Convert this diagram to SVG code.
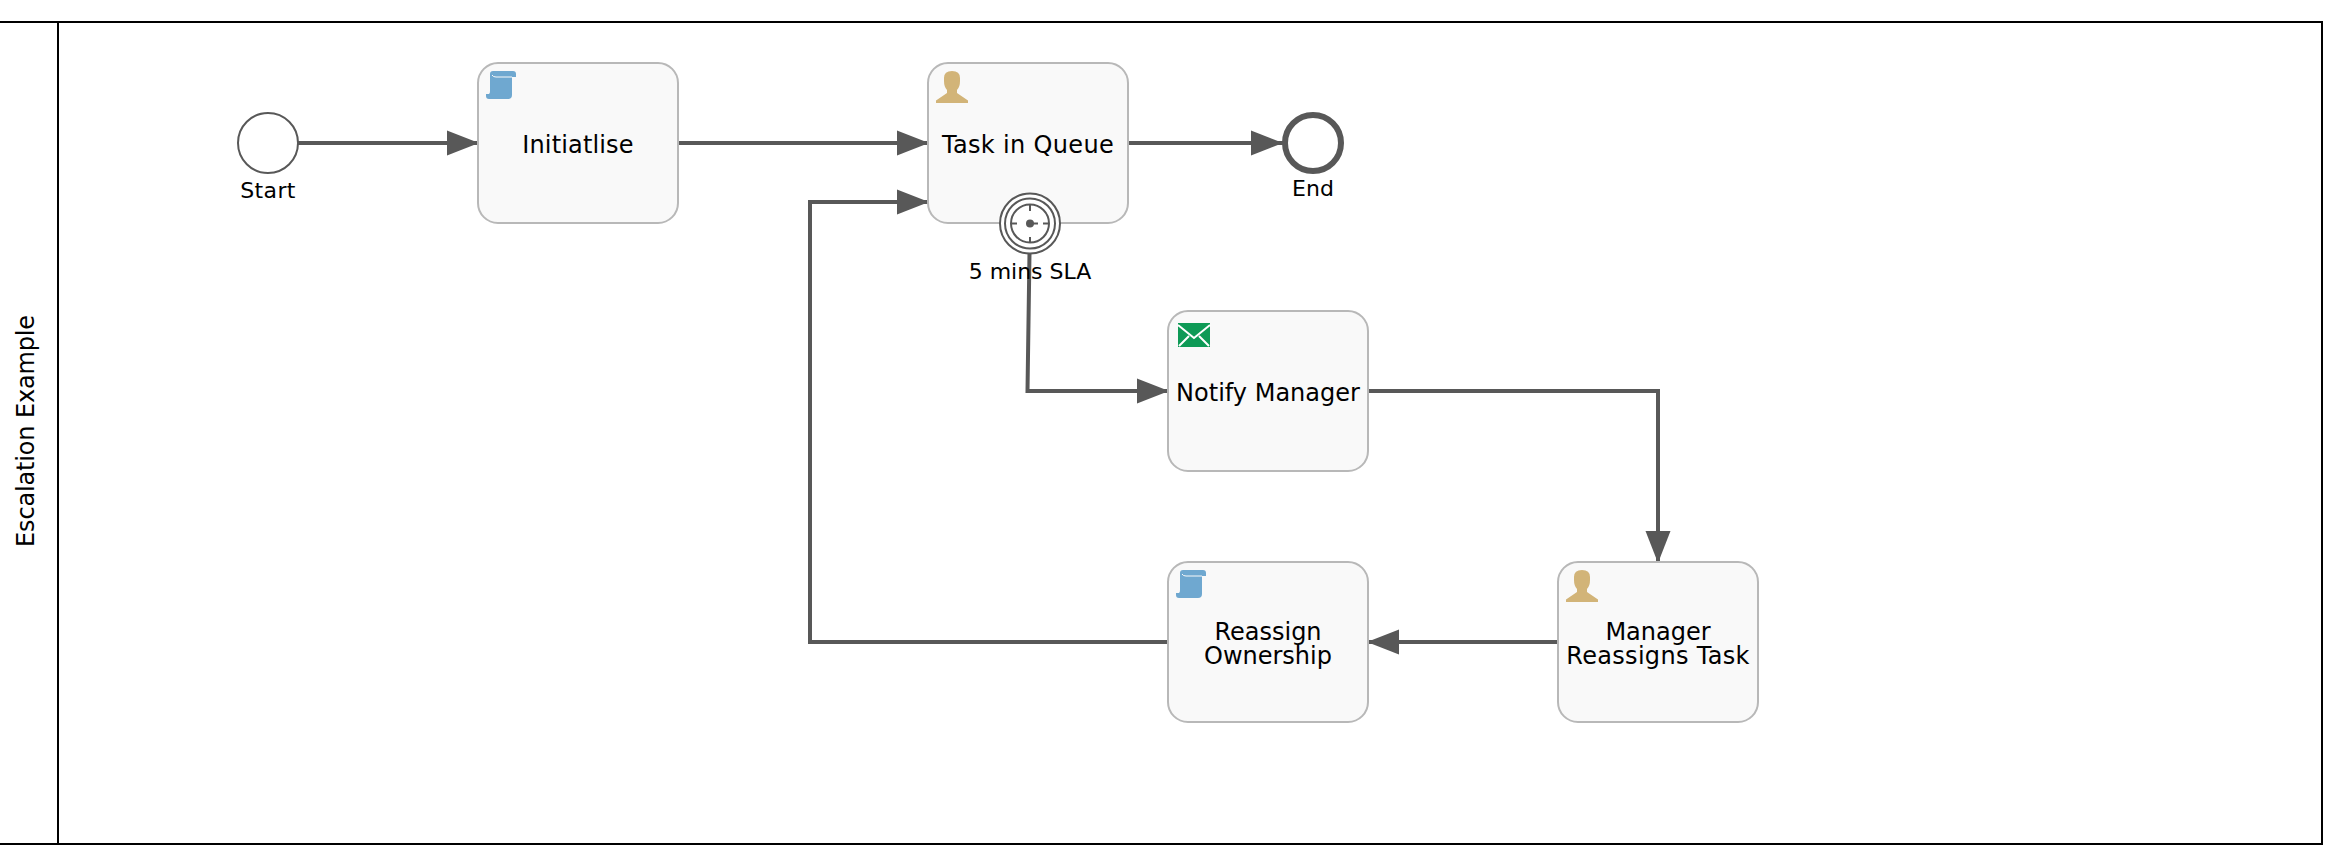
<svg xmlns="http://www.w3.org/2000/svg" width="2340" height="864" viewBox="0 0 2340 864">
<style>
text{font-family:"DejaVu Sans",Verdana,sans-serif;fill:#000;text-anchor:middle}
.t{font-size:24px}
.v{font-size:24px;letter-spacing:-.15px}
.l{font-size:22px}
.task{fill:#f9f9f9;stroke:#b8b8b8;stroke-width:2}
.c{fill:none;stroke:#585858;stroke-width:4;marker-end:url(#a)}
.ev{fill:#fff;stroke:#585858}
.k{stroke:#585858;stroke-width:2;fill:none}
</style>
<defs>
<marker id="a" markerUnits="userSpaceOnUse" markerWidth="33" markerHeight="26" refX="32" refY="13" orient="auto"><path d="M0 .5L32 13L0 25.500Z" fill="#585858"/></marker>
<g id="script"><path d="M4 3Q4 0 7 0H27Q30 0 30 3V6H26V24Q26 28 22 28H3Q0 28 0 25V23H3Q4 23 4 20Z" fill="#6fa8d0"/><path d="M6 4Q7 6 10 6H26" fill="none" stroke="#f9f9f9" stroke-width="1"/></g>
<g id="user"><path d="M0 32V29.500L11 22V19Q8 16 8 10V7Q8 0 16 0Q24 0 24 7V10Q24 16 21 19V22L32 29.500V32Z" fill="#d2b478"/></g>
</defs>
<rect width="2340" height="864" fill="#fff"/>
<g id="pool" fill="none" stroke="#000" stroke-width="2"><rect x="-2" y="22" width="2324" height="822"/><path d="M58 22V844"/></g>
<text class="v" transform="translate(26 431) rotate(-90)" y="8">Escalation Example</text>
<g id="connectors">
<path class="c" d="M298 143H479"/>
<path class="c" d="M678 143H929"/>
<path class="c" d="M1128 143H1283"/>
<path class="c" d="M1029.500 253L1027.500 391H1169"/>
<path class="c" d="M1368 391H1658V563"/>
<path class="c" d="M1558 642H1367"/>
<path class="c" d="M1168 642H810V202H929"/>
</g>
<g id="start"><circle class="ev" cx="268" cy="143" r="30" stroke-width="2"/><text class="l" x="268" y="198" letter-spacing=".4">Start</text></g>
<g id="initialise"><rect class="task" x="478" y="63" width="200" height="160" rx="20"/><use href="#script" x="486" y="71"/><text class="t" x="578" y="153" letter-spacing=".15">Initiatlise</text></g>
<g id="queue"><rect class="task" x="928" y="63" width="200" height="160" rx="20"/><use href="#user" x="936" y="71"/><text class="t" x="1028" y="153" letter-spacing=".34">Task in Queue</text></g>
<g id="timer"><circle class="ev" cx="1030" cy="223.500" r="30" stroke-width="2"/><circle class="ev" cx="1030" cy="223.500" r="25" stroke-width="2"/><circle class="ev" cx="1030" cy="223.500" r="19" stroke-width="2"/><path class="k" d="M1030 205v6M1030 237v6M1011 223.500h6M1043 223.500h6M1030 223.500h8"/><circle cx="1030" cy="223.500" r="4" fill="#585858"/></g>
<text class="l" x="1030" y="279">5 mins SLA</text>
<g id="end"><circle class="ev" cx="1313" cy="143" r="28" stroke-width="6"/><text class="l" x="1313" y="196">End</text></g>
<g id="notify"><rect class="task" x="1168" y="311" width="200" height="160" rx="20"/><path d="M1178 323H1210V347H1178Z" fill="#0e9a56"/><path d="M1178 325L1194 338L1210 325M1179 346L1189 336M1209 346L1199 336" fill="none" stroke="#fff" stroke-width="2"/><text class="t" x="1268" y="401">Notify Manager</text></g>
<g id="manager"><rect class="task" x="1558" y="562" width="200" height="160" rx="20"/><use href="#user" x="1566" y="570"/><text class="t" x="1658" y="640">Manager</text><text class="t" x="1658" y="664" letter-spacing=".3">Reassigns Task</text></g>
<g id="reassign"><rect class="task" x="1168" y="562" width="200" height="160" rx="20"/><use href="#script" x="1176" y="570"/><text class="t" x="1268" y="640">Reassign</text><text class="t" x="1268" y="664">Ownership</text></g>
</svg>
